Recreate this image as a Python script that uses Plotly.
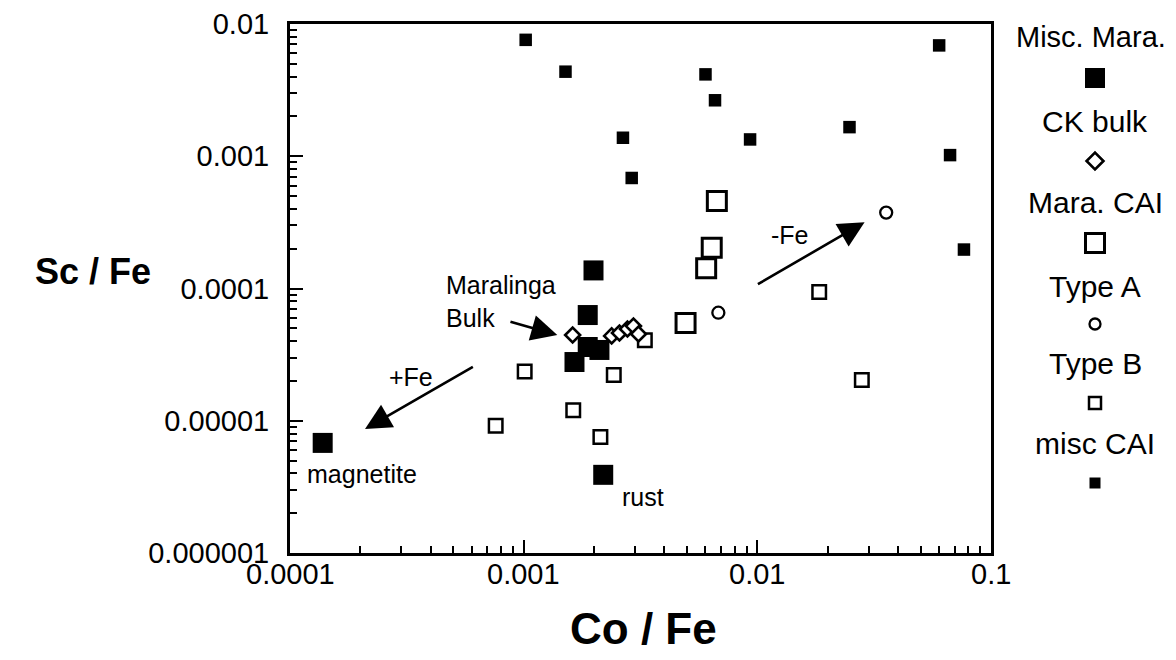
import plotly.graph_objects as go
import math

# ---------------- data ----------------
misc_mara_x = [0.000138, 0.00199, 0.00188, 0.00188, 0.00211, 0.00165, 0.00219]
misc_mara_y = [0.0000068, 0.000137, 0.0000630, 0.0000361, 0.0000343, 0.0000278, 0.0000039]

ck_bulk_x = [0.00162, 0.00238, 0.00257, 0.00278, 0.00295, 0.00310]
ck_bulk_y = [0.0000445, 0.0000438, 0.0000461, 0.0000494, 0.0000520, 0.0000453]

mara_cai_x = [0.00671, 0.00638, 0.00604, 0.00493]
mara_cai_y = [0.000458, 0.000203, 0.000142, 0.0000548]

type_a_x = [0.0356, 0.00681]
type_a_y = [0.000375, 0.0000656]

type_b_x = [0.0184, 0.00330, 0.00101, 0.00243, 0.0280, 0.00163, 0.000759, 0.00213]
type_b_y = [0.0000942, 0.0000406, 0.0000236, 0.0000222, 0.0000203, 0.0000120, 0.00000918, 0.00000753]

misc_cai_x = [0.00102, 0.00151, 0.00600, 0.00659, 0.00266, 0.00931, 0.0248, 0.0600, 0.0668, 0.00290, 0.0766]
misc_cai_y = [0.00759, 0.00436, 0.00416, 0.00265, 0.00138, 0.00134, 0.00166, 0.00689, 0.00102, 0.000685, 0.000197]

x_tick_vals = [0.0001, 0.001, 0.01, 0.1]
x_tick_labels = ["0.0001", "0.001", "0.01", "0.1"]

legend_names = ["Misc. Mara.", "CK bulk", "Mara. CAI", "Type A", "Type B", "misc CAI"]

# ---------------- layout helpers ----------------
OFF = 8                      # default page body margin (both sides)
W, H = 1176 - 2 * OFF, 660 - 2 * OFF
L, R, T = 290 - OFF, 0, 24 - OFF
B = H - (553 - OFF)
PLOT_RIGHT = 991 - OFF
FONT = "Arial, Liberation Sans, sans-serif"

def px_to_paper(px, py):
    px -= OFF
    py -= OFF
    return (px - L) / (W - L - R), (H - B - py) / (H - T - B)

styles = {
    "Misc. Mara.": dict(symbol="square", size=20, color="black", line=dict(width=0, color="black")),
    "CK bulk": dict(symbol="diamond", size=11.5, color="white", line=dict(width=2.6, color="black")),
    "Mara. CAI": dict(symbol="square", size=19, color="white", line=dict(width=3, color="black")),
    "Type A": dict(symbol="circle", size=12, color="white", line=dict(width=2.3, color="black")),
    "Type B": dict(symbol="square", size=13.5, color="white", line=dict(width=2.5, color="black")),
    "misc CAI": dict(symbol="square", size=12.5, color="black", line=dict(width=0, color="black")),
}
legend_marker_size = {"Misc. Mara.": 20, "CK bulk": 13, "Mara. CAI": 19, "Type A": 11,
                      "Type B": 12, "misc CAI": 11}

series = {
    "misc CAI": (misc_cai_x, misc_cai_y),
    "Type B": (type_b_x, type_b_y),
    "Misc. Mara.": (misc_mara_x, misc_mara_y),
    "Mara. CAI": (mara_cai_x, mara_cai_y),
    "Type A": (type_a_x, type_a_y),
    "CK bulk": (ck_bulk_x, ck_bulk_y),
}

fig = go.Figure()
for name, (xs, ys) in series.items():
    fig.add_trace(go.Scatter(x=xs, y=ys, mode="markers", name=name,
                             marker=styles[name], showlegend=False,
                             xaxis="x", yaxis="y"))

# legend column (symbols drawn under each label) on a screen-pixel helper axis
leg_x = 1095
leg_text_x = [1091, 1095, 1095, 1095, 1095, 1095]
leg_text_y = [37, 121, 202, 286, 363, 443]
leg_sym_y = [78, 161, 243, 324, 403, 483]
for name, sy in zip(legend_names, leg_sym_y):
    st = dict(styles[name])
    st["size"] = legend_marker_size[name]
    fig.add_trace(go.Scatter(x=[leg_x], y=[sy], mode="markers", marker=st,
                             showlegend=False, xaxis="x2", yaxis="y2", hoverinfo="skip"))

annotations = []
for name, tx, ty in zip(legend_names, leg_text_x, leg_text_y):
    annotations.append(dict(x=tx, y=ty, xref="x2", yref="y2", text=name, showarrow=False,
                            font=dict(family=FONT, size=29 if name == "Misc. Mara." else 30,
                                      color="black"),
                            xanchor="center", yanchor="middle"))

# x tick labels (placed just under the frame, as in the original)
for v, t in zip(x_tick_vals, x_tick_labels):
    annotations.append(dict(x=math.log10(v), y=0, xref="x", yref="paper", text=t,
                            showarrow=False, xanchor="center", yanchor="top", yshift=-3,
                            font=dict(family=FONT, size=29, color="black")))

# text labels inside plot (log coordinates)
txt_font = dict(family=FONT, size=25, color="black")
annotations += [
    dict(x=-3.340, y=-4.098, xref="x", yref="y", text="Maralinga<br>Bulk", align="left",
         showarrow=False, xanchor="left", yanchor="middle", font=txt_font),
    dict(x=-3.482, y=-4.666, xref="x", yref="y", text="+Fe", showarrow=False, font=txt_font),
    dict(x=-1.862, y=-3.595, xref="x", yref="y", text="-Fe", showarrow=False, font=txt_font),
    dict(x=-3.693, y=-5.405, xref="x", yref="y", text="magnetite", showarrow=False, font=txt_font),
    dict(x=-2.488, y=-5.580, xref="x", yref="y", text="rust", showarrow=False, font=txt_font),
]

# arrows (head, tail) in log coordinates
arrows = [((-1.541, -3.499), (-2.004, -3.974)),
          ((-3.679, -5.063), (-3.211, -4.587)),
          ((-2.856, -4.352), (-3.063, -4.248))]
for (hx, hy), (tx, ty) in arrows:
    annotations.append(dict(x=hx, y=hy, ax=tx, ay=ty, xref="x", yref="y", axref="x", ayref="y",
                            text="", showarrow=True, arrowhead=2, arrowsize=2.0,
                            arrowwidth=2.6, arrowcolor="black", standoff=0))

# axis titles
sx, sy = px_to_paper(93, 271)
cx, cy = px_to_paper(643, 628)
annotations += [
    dict(x=sx, y=sy, xref="paper", yref="paper", text="<b>Sc / Fe</b>", showarrow=False,
         font=dict(family=FONT, size=36, color="black"), xanchor="center", yanchor="middle"),
    dict(x=cx, y=cy, xref="paper", yref="paper", text="<b>Co / Fe</b>", showarrow=False,
         font=dict(family=FONT, size=44, color="black"), xanchor="center", yanchor="middle"),
]

pw = W - L - R
x_dom_end = (PLOT_RIGHT - L) / pw
leg_dom_start = 0.80
fig.update_layout(
    width=W, height=H,
    margin=dict(l=L, r=R, t=T, b=B, pad=0),
    paper_bgcolor="white", plot_bgcolor="white",
    showlegend=False,
    font=dict(family=FONT, color="black"),
    xaxis=dict(type="log", range=[-4, -1], domain=[0, x_dom_end],
               showline=True, linewidth=3, linecolor="black", mirror=True,
               ticks="inside", ticklen=13, tickwidth=2, tickcolor="black",
               dtick=1, tick0=0, showticklabels=False,
               showgrid=False, zeroline=False,
               minor=dict(ticks="inside", ticklen=7, tickwidth=1.5, tickcolor="black",
                          dtick="D1", showgrid=False)),
    yaxis=dict(type="log", range=[-6, -2], domain=[0, 1],
               showline=True, linewidth=3, linecolor="black", mirror=True,
               ticks="inside", ticklen=13, tickwidth=2, tickcolor="black",
               dtick=1, tick0=0, tickformat=".6~f",
               tickfont=dict(family=FONT, size=29, color="black"),
               ticklabelstandoff=12,
               showgrid=False, zeroline=False,
               minor=dict(ticks="inside", ticklen=7, tickwidth=1.5, tickcolor="black",
                          dtick="D1", showgrid=False)),
    # helper axes in screen pixels for the stacked legend
    xaxis2=dict(domain=[leg_dom_start, 1],
                range=[L + OFF + leg_dom_start * pw, L + OFF + pw],
                visible=False, anchor="y2", fixedrange=True),
    yaxis2=dict(domain=[0, 1], range=[H - B + OFF, T + OFF], visible=False,
                anchor="x2", fixedrange=True),
    annotations=annotations,
)

fig.write_html("out.html")
